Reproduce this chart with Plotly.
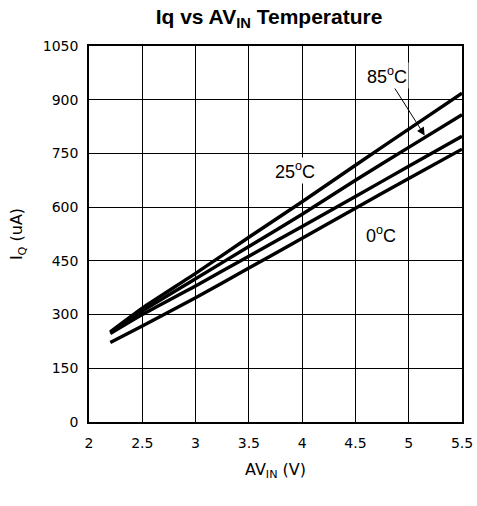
import plotly.graph_objects as go

avin = [2.2, 2.5, 3.0, 3.5, 4.0, 4.5, 5.0, 5.5]
iq_25c = [252, 318, 415, 516, 615, 717, 818, 918]
iq_85c = [250, 310, 400, 490, 580, 675, 767, 858]
iq_m40c = [247, 300, 380, 463, 546, 630, 714, 798]
iq_0c = [222, 268, 347, 430, 513, 597, 680, 762]

x_ticks = [2, 2.5, 3, 3.5, 4, 4.5, 5, 5.5]
y_ticks = [0, 150, 300, 450, 600, 750, 900, 1050]

fig = go.Figure()
for name, ys in [("25°C", iq_25c), ("85°C", iq_85c), ("-40°C", iq_m40c), ("0°C", iq_0c)]:
    fig.add_trace(go.Scatter(x=avin, y=ys, mode="lines", name=name,
                             line=dict(color="black", width=3.4, shape="spline", smoothing=0.5)))

axis_common = dict(showgrid=True, gridcolor="black", gridwidth=1,
                   showline=True, linecolor="black", linewidth=1.5, mirror=True,
                   ticks="", zeroline=False, automargin=False,
                   tickfont=dict(family="DejaVu Sans", size=14, color="black"))

fig.update_xaxes(range=[2, 5.5], tickvals=x_ticks, ticktext=[str(v) for v in x_ticks],
                 ticklabelstandoff=7,
                 title=dict(text="AV<sub>IN</sub> (V)", font=dict(family="DejaVu Sans", size=16, color="black"), standoff=14),
                 **axis_common)
fig.update_yaxes(range=[0, 1050], tickvals=y_ticks, ticktext=[str(v) for v in y_ticks],
                 ticklabelstandoff=6,
                 title=dict(text="I<sub>Q</sub> (uA)", font=dict(family="DejaVu Sans", size=16, color="black"), standoff=16),
                 **axis_common)

ann_font = dict(family="Liberation Sans", size=18, color="black")
fig.add_annotation(x=5.15, y=800, xref="x", yref="y", text="85<sup>o</sup>C",
                   showarrow=True, ax=-38, ay=-60, arrowhead=2, arrowsize=1.6, arrowwidth=1,
                   arrowcolor="black", font=ann_font, bgcolor="white")
fig.add_annotation(x=3.93, y=701, xref="x", yref="y", text="25<sup>o</sup>C", showarrow=False,
                   font=ann_font, bgcolor="white")
fig.add_annotation(x=4.74, y=525, xref="x", yref="y", text="0<sup>o</sup>C", showarrow=False,
                   font=ann_font, bgcolor="white")

fig.update_layout(
    width=477, height=506,
    margin=dict(l=89, r=15, t=46, b=84, autoexpand=False),
    paper_bgcolor="white", plot_bgcolor="white",
    showlegend=False,
    hovermode=False,
    title=dict(text="<b>Iq vs AV<sub>IN</sub> Temperature</b>", x=0.564, xanchor="center",
               y=0.968, yanchor="middle",
               font=dict(family="Liberation Sans", size=21, color="black")),
)

# remove the default page margin so the figure fills the window exactly
fig.write_html("out.html",
               config={"displayModeBar": False},
               post_script="document.body.style.margin='0';document.body.style.overflow='hidden';")
